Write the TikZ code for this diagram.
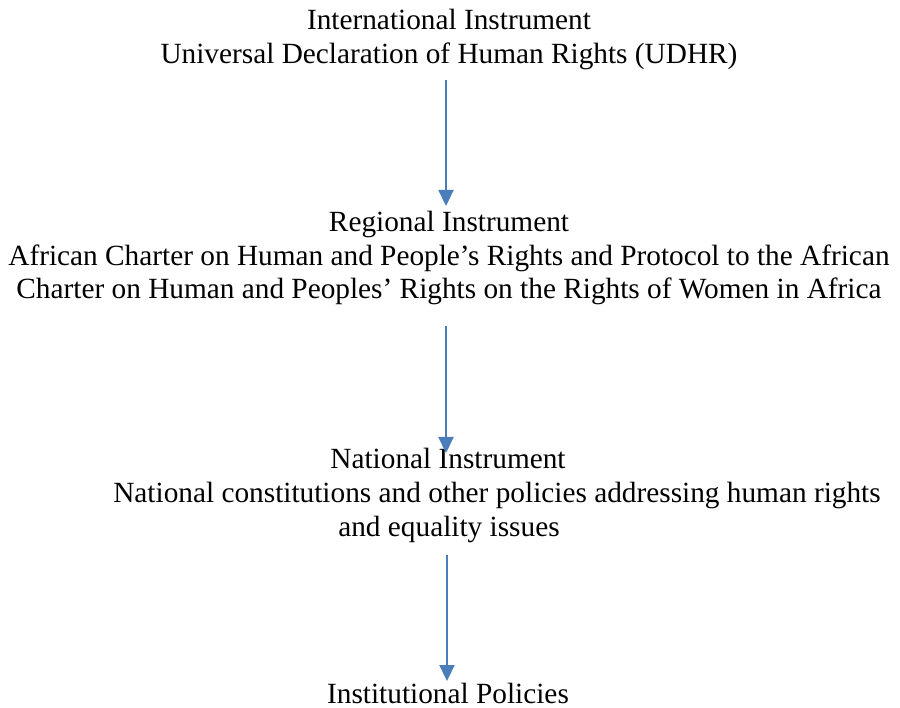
\documentclass[tikz,border=0pt]{standalone}
\usepackage{fontspec}
\setmainfont{Liberation Serif}
\usetikzlibrary{arrows.meta}
\definecolor{arrblue}{HTML}{4A7EBB}
\begin{document}
\begin{tikzpicture}[x=1pt,y=-1pt,
  txt/.style={inner sep=0pt,anchor=base,font=\fontsize{29.3}{34}\selectfont},
  flow/.style={draw=arrblue,line width=2.2pt,-{Triangle[width=15pt,length=16pt,fill=arrblue]}}]
\useasboundingbox (0,0) rectangle (900,708);
\node[txt] (t1) at (449,30) {International Instrument};
\node[txt] (t2) at (449,64) {Universal Declaration of Human Rights (UDHR)};
\node[txt] (r1) at (449,232) {Regional Instrument};
\node[txt] (r2) at (449,266) {African Charter on Human and People’s Rights and Protocol to the African};
\node[txt] (r3) at (449,299) {Charter on Human and Peoples’ Rights on the Rights of Women in Africa};
\node[txt] (n1) at (448,468) {National Instrument};
\node[txt] (n2) at (497,503) {National constitutions and other policies addressing human rights};
\node[txt] (n3) at (449,536) {and equality issues};
\node[txt] (p1) at (448,703) {Institutional Policies};
\coordinate (a1s) at (446,80);  \coordinate (a1e) at (446,206);
\coordinate (a2s) at (446,326); \coordinate (a2e) at (446,453);
\coordinate (a3s) at (447,555); \coordinate (a3e) at (447,681);
\draw[flow] (a1s) -- (a1e);
\draw[flow] (a2s) -- (a2e);
\draw[flow] (a3s) -- (a3e);
\end{tikzpicture}
\end{document}
